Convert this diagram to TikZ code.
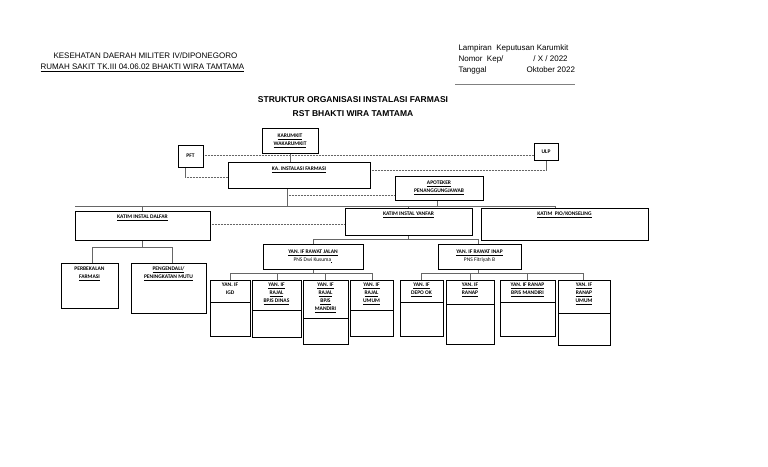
\documentclass[tikz,border=0pt]{standalone}
\usepackage{fontspec}
\setmainfont{Carlito}
\newfontfamily\hdr{Liberation Sans}
\begin{document}
\begin{tikzpicture}[x=1pt,y=-1pt,
  bx/.style={draw,line width=0.8pt,fill=white},
  ln/.style={draw=black!60,line width=0.5pt},
  dl/.style={draw=black!60,line width=0.5pt,densely dotted},
  tx/.style={font=\fontsize{5.5}{8}\selectfont\bfseries,align=center,inner sep=0pt}]
\useasboundingbox (0,0) rectangle (768,466);
% header
\node[font=\hdr\fontsize{8}{9}\selectfont,anchor=west] (h1) at (50,56) {KESEHATAN DAERAH MILITER IV/DIPONEGORO};
\node[font=\hdr\fontsize{8}{9}\selectfont,anchor=west] (h2) at (37,68) {\underline{RUMAH SAKIT TK.III 04.06.02 BHAKTI WIRA TAMTAMA}};
\node[font=\hdr\fontsize{8}{9}\selectfont,anchor=west] (r1) at (455,48) {Lampiran\ \ Keputusan Karumkit};
\node[font=\hdr\fontsize{8}{9}\selectfont,anchor=west] (r2) at (455,59) {Nomor\ \ Kep/\hspace{30pt}/ X / 2022};
\node[font=\hdr\fontsize{8}{9}\selectfont,anchor=west] (r3) at (455,70) {Tanggal\hspace{40pt}Oktober 2022};
\draw[black!50,line width=0.4pt] (455,84) coordinate (rl1) -- (575,84) coordinate (rl2);
\node[font=\hdr\fontsize{8.5}{10}\selectfont\bfseries] (t1) at (353,100) {STRUKTUR ORGANISASI INSTALASI FARMASI};
\node[font=\hdr\fontsize{8.5}{10}\selectfont\bfseries] (t2) at (353,114) {RST BHAKTI WIRA TAMTAMA};
% connectors (drawn first)
\draw[ln] (290,153) coordinate (k1) -- (290,162) coordinate (k2);
\draw[dl] (203,155) coordinate (d1) -- (534,155) coordinate (d2);
\draw[ln] (185,167) coordinate (p1) -- (185,177) coordinate (p2);
\draw[dl] (p2) -- (228,177) coordinate (p3);
\draw[dl] (370,170) coordinate (u1) -- (546,170) coordinate (u2);
\draw[ln] (u2) -- (546,160) coordinate (u3);
\draw[ln] (287,188) coordinate (a1) -- (287,206) coordinate (a2);
\draw[dl] (287,195) coordinate (a3) -- (395,195) coordinate (a4);
\draw[ln] (75,206) coordinate (m1) -- (555,206) coordinate (m2);
\draw[ln] (m2) -- (555,208) coordinate (m3);
\draw[ln] (437,200) coordinate (m4) -- (437,206) coordinate (m5);
\draw[ln] (408,206) -- (408,208) coordinate (m6);
\draw[ln] (142,206) -- (142,211) coordinate (m7);
\draw[dl] (210,224) coordinate (y1) -- (345,224) coordinate (y2);
\draw[ln] (142,240) coordinate (f1) -- (142,247) coordinate (f2);
\draw[ln] (92,247) coordinate (f3) -- (172,247) coordinate (f4);
\draw[ln] (f3) -- (92,263) coordinate (f5);
\draw[ln] (f4) -- (172,263) coordinate (f6);
\draw[ln] (408,235) coordinate (g1) -- (408,239) coordinate (g2);
\draw[ln] (313,239) coordinate (g3) -- (478,239) coordinate (g4);
\draw[ln] (g3) -- (313,244) coordinate (g5);
\draw[ln] (g4) -- (478,244) coordinate (g6);
\draw[ln] (313,269) -- (313,273) coordinate (j1);
\draw[ln] (230,273) coordinate (j2) -- (372,273) coordinate (j3);
\foreach \x in {230,277,325,372} \draw[ln] (\x,273) -- (\x,280);
\draw[ln] (478,269) -- (478,273) coordinate (i1);
\draw[ln] (421,273) coordinate (i2) -- (583,273) coordinate (i3);
\foreach \x in {421,470,527,583} \draw[ln] (\x,273) -- (\x,280);
% boxes
\node[bx,tx,minimum width=56pt,minimum height=25pt] (kar) at (290,140.5) {\underline{KARUMKIT}\\\underline{WAKARUMKIT}};
\node[bx,tx,minimum width=25pt,minimum height=22pt] (pft) at (190.5,156) {PFT};
\node[bx,tx,minimum width=24pt,minimum height=17pt] (ulp) at (546,151.5) {ULP};
\node[bx,minimum width=142pt,minimum height=26pt] (ka) at (299,175) {};
\node[tx,anchor=north] (kat) at (ka.north) [yshift=-5pt] {\underline{KA. INSTALASI FARMASI}};
\node[bx,tx,minimum width=88pt,minimum height=24pt] (apt) at (439,188) {\underline{APOTEKER}\\\underline{PENANGGUNGJAWAB}};
\node[bx,minimum width=135pt,minimum height=29pt] (dal) at (142.5,225.5) {};
\node[tx,anchor=north] at ([yshift=-4pt]dal.north) (dalt) {\underline{KATIM INSTAL DALFAR}};
\node[bx,minimum width=127pt,minimum height=27pt] (yan) at (408.5,221.5) {};
\node[tx,anchor=north] at ([yshift=-4pt]yan.north) (yant) {\underline{KATIM INSTAL YANFAR}};
\node[bx,minimum width=167pt,minimum height=32pt] (pio) at (564.5,224) {};
\node[tx,anchor=north] at ([yshift=-4pt]pio.north) (piot) {\underline{KATIM\ \ PIO/KONSELING}};
\node[bx,minimum width=57pt,minimum height=45pt] (pbk) at (89.5,285.5) {};
\node[tx,anchor=north] at ([yshift=-4pt]pbk.north) (pbkt) {PERBEKALAN\\\underline{FARMASI}};
\node[bx,minimum width=75pt,minimum height=50pt] (pgd) at (168.5,288) {};
\node[tx,anchor=north] at ([yshift=-4pt]pgd.north) (pgdt) {\underline{PENGENDALI/}\\\underline{PENINGKATAN MUTU}};
\node[bx,tx,minimum width=100pt,minimum height=25pt] (rj) at (313,256.5) {\underline{YAN. IF RAWAT JALAN}\\{\mdseries PNS Dwi Kusuma\underline{\ }}};
\node[bx,tx,minimum width=83pt,minimum height=25pt] (ri) at (479.5,256.5) {\underline{YAN. IF RAWAT INAP}\\{\mdseries PNS Fitriyah B}};
% sub boxes: name, x1, x2, y2, divider, text
\foreach \n/\a/\b/\c/\d/\t in {
 igd/210/250/336/302/{YAN. IF\\IGD},
 bd/252/301/337/310/{\underline{YAN. IF}\\\underline{RAJAL}\\\underline{BPJS DINAS}},
 bm/303/348/344/318/{\underline{YAN. IF}\\\underline{RAJAL}\\\underline{BPJS}\\\underline{MANDIRI}},
 ru/350/393/336/310/{\underline{YAN. IF}\\\underline{RAJAL}\\\underline{UMUM}},
 ok/400/443/336/302/{\underline{YAN. IF}\\\underline{DEPO OK}},
 rn/446/494/344/304/{\underline{YAN. IF}\\\underline{RANAP}},
 rm/500/555/336/302/{\underline{YAN. IF RANAP}\\\underline{BPJS MANDIRI}},
 rum/558/610/345/313/{\underline{YAN. IF}\\\underline{RANAP}\\\underline{UMUM}}}{
  \draw[line width=0.8pt] (\a,280) rectangle (\b,\c);
  \draw[line width=0.8pt] (\a,\d) -- (\b,\d);
  \node[tx,anchor=north] (\n) at ({(\a+\b)/2},283) {\t};
}
\end{tikzpicture}
\end{document}
